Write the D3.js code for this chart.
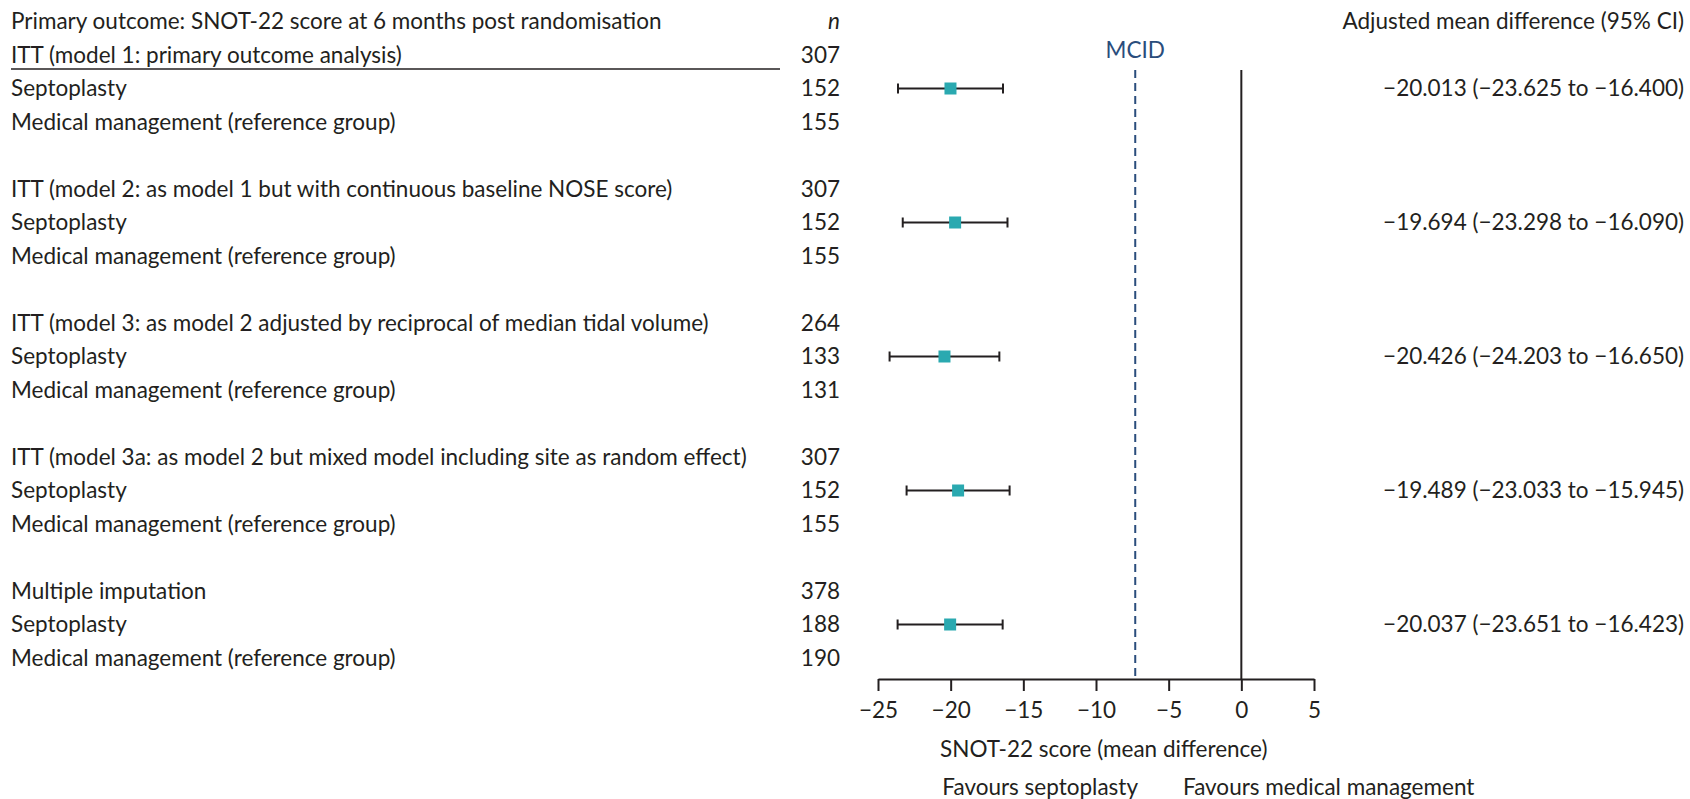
<!DOCTYPE html>
<html>
<head>
<meta charset="utf-8">
<script src="https://cdn.jsdelivr.net/npm/d3@7"></script>
<style>
  body { margin: 0; background: #fff; }
  svg text { font-family: Lato, "Open Sans", sans-serif; fill: #231f20; }
</style>
</head>
<body>
<div id="vis"></div>
<script>
// Forest plot: SNOT-22 at 6 months

var header = "Primary outcome: SNOT-22 score at 6 months post randomisation";
var groupLabels = [
    "ITT (model 1: primary outcome analysis)",
    "ITT (model 2: as model 1 but with continuous baseline NOSE score)",
    "ITT (model 3: as model 2 adjusted by reciprocal of median tidal volume)",
    "ITT (model 3a: as model 2 but mixed model including site as random effect)",
    "Multiple imputation"
];
var groupN = [ 307, 307, 264, 307, 378 ];
var septoN = [ 152, 152, 133, 152, 188 ];
var medN = [ 155, 155, 131, 155, 190 ];
var estimate = [ -20.013, -19.694, -20.426, -19.489, -20.037 ];
var lower = [ -23.625, -23.298, -24.203, -23.033, -23.651 ];
var upper = [ -16.400, -16.090, -16.650, -15.945, -16.423 ];
var xTicks = [ -25, -20, -15, -10, -5, 0, 5 ];
var mcid = -7.3;

var width = 1690, height = 799;

var svg = d3.select( "#vis" ).append( "svg" )
    .attr( "width", width )
    .attr( "height", height );

// row positions (header is row 0, each group takes 4 rows)
var y = d3.scaleLinear().domain( [ 0, 19 ] ).range( [ 21.5, 658 ] );
var x = d3.scaleLinear().domain( [ -25, 5 ] ).range( [ 878, 1314 ] );
var axisY = 679;
var fs = 22.5;

// build the table rows
var rows = [];
groupLabels.forEach( function( g, i ) {
    rows.push( { label: g, n: groupN[ i ], row: 1 + i * 4 } );
    rows.push( { label: "Septoplasty", n: septoN[ i ], row: 2 + i * 4, est: estimate[ i ], lo: lower[ i ], hi: upper[ i ] } );
    rows.push( { label: "Medical management (reference group)", n: medN[ i ], row: 3 + i * 4 } );
});

// header texts
svg.append( "text" )
    .attr( "x", 11 ).attr( "y", y( 0 ) ).attr( "dy", "0.35em" )
    .style( "font-size", fs + "px" )
    .text( header );

svg.append( "text" )
    .attr( "x", 840 ).attr( "y", y( 0 ) ).attr( "dy", "0.35em" )
    .style( "font-size", fs + "px" )
    .style( "font-style", "italic" )
    .style( "text-anchor", "end" )
    .text( "n" );

svg.append( "text" )
    .attr( "x", 1684 ).attr( "y", y( 0 ) ).attr( "dy", "0.35em" )
    .style( "font-size", fs + "px" )
    .style( "text-anchor", "end" )
    .text( "Adjusted mean difference (95% CI)" );

// rule under first heading
svg.append( "line" )
    .attr( "x1", 11 ).attr( "x2", 780 )
    .attr( "y1", 69 ).attr( "y2", 69 )
    .attr( "stroke", "#231f20" ).attr( "stroke-width", 1.5 );

// labels and n
svg.selectAll( ".lab" )
    .data( rows )
    .enter().append( "text" )
    .attr( "class", "lab" )
    .attr( "x", 11 )
    .attr( "y", function( d ) { return y( d.row ); } )
    .attr( "dy", "0.35em" )
    .style( "font-size", fs + "px" )
    .text( function( d ) { return d.label; } );

svg.selectAll( ".nval" )
    .data( rows )
    .enter().append( "text" )
    .attr( "class", "nval" )
    .attr( "x", 840 )
    .attr( "y", function( d ) { return y( d.row ); } )
    .attr( "dy", "0.35em" )
    .style( "font-size", fs + "px" )
    .style( "text-anchor", "end" )
    .text( function( d ) { return d.n; } );

var est = rows.filter( function( d ) { return d.est !== undefined; } );
var f3 = d3.format( ".3f" );

// estimate text
svg.selectAll( ".ci" )
    .data( est )
    .enter().append( "text" )
    .attr( "class", "ci" )
    .attr( "x", 1684 )
    .attr( "y", function( d ) { return y( d.row ); } )
    .attr( "dy", "0.35em" )
    .style( "font-size", fs + "px" )
    .style( "text-anchor", "end" )
    .text( function( d ) { return f3( d.est ) + " (" + f3( d.lo ) + " to " + f3( d.hi ) + ")"; } );

// no-effect line
svg.append( "line" )
    .attr( "x1", x( 0 ) ).attr( "x2", x( 0 ) )
    .attr( "y1", 70 ).attr( "y2", axisY )
    .attr( "stroke", "#231f20" ).attr( "stroke-width", 2 );

// MCID line
svg.append( "line" )
    .attr( "x1", x( mcid ) ).attr( "x2", x( mcid ) )
    .attr( "y1", 70 ).attr( "y2", axisY )
    .attr( "stroke", "#2a4d7c" ).attr( "stroke-width", 2 )
    .attr( "stroke-dasharray", "8,5" );

svg.append( "text" )
    .attr( "x", x( mcid ) ).attr( "y", 50 ).attr( "dy", "0.35em" )
    .style( "font-size", fs + "px" )
    .style( "fill", "#2a4d7c" )
    .style( "text-anchor", "middle" )
    .text( "MCID" );

// error bars
var bars = svg.selectAll( ".bar" )
    .data( est )
    .enter().append( "g" )
    .attr( "class", "bar" )
    .attr( "transform", function( d ) { return "translate(0," + y( d.row ) + ")"; } );

bars.append( "line" )
    .attr( "x1", function( d ) { return x( d.lo ); } )
    .attr( "x2", function( d ) { return x( d.hi ); } )
    .attr( "stroke", "#231f20" ).attr( "stroke-width", 2 );

bars.append( "line" )
    .attr( "x1", function( d ) { return x( d.lo ); } )
    .attr( "x2", function( d ) { return x( d.lo ); } )
    .attr( "y1", -5 ).attr( "y2", 5 )
    .attr( "stroke", "#231f20" ).attr( "stroke-width", 2 );

bars.append( "line" )
    .attr( "x1", function( d ) { return x( d.hi ); } )
    .attr( "x2", function( d ) { return x( d.hi ); } )
    .attr( "y1", -5 ).attr( "y2", 5 )
    .attr( "stroke", "#231f20" ).attr( "stroke-width", 2 );

bars.append( "rect" )
    .attr( "x", function( d ) { return x( d.est ) - 6; } )
    .attr( "y", -6 )
    .attr( "width", 12 ).attr( "height", 12 )
    .attr( "fill", "#2aa9b0" );

// x axis
var axis = svg.append( "g" )
    .attr( "transform", "translate(0," + axisY + ")" )
    .call( d3.axisBottom( x ).tickValues( xTicks ).tickSize( 12 ).tickSizeOuter( 0 ).tickPadding( 11 ) );

axis.select( ".domain" ).attr( "stroke", "#231f20" ).attr( "stroke-width", 2 );
axis.selectAll( ".tick line" ).attr( "stroke", "#231f20" ).attr( "stroke-width", 2 );
axis.selectAll( ".tick text" )
    .style( "font-family", "Lato, sans-serif" )
    .style( "font-size", fs + "px" )
    .attr( "fill", "#231f20" );

// axis titles
svg.append( "text" )
    .attr( "x", 940 ).attr( "y", 749 ).attr( "dy", "0.35em" )
    .style( "font-size", fs + "px" )
    .text( "SNOT-22 score (mean difference)" );

svg.append( "text" )
    .attr( "x", 1138 ).attr( "y", 787 ).attr( "dy", "0.35em" )
    .style( "font-size", fs + "px" )
    .style( "text-anchor", "end" )
    .text( "Favours septoplasty" );

svg.append( "text" )
    .attr( "x", 1183 ).attr( "y", 787 ).attr( "dy", "0.35em" )
    .style( "font-size", fs + "px" )
    .text( "Favours medical management" );
</script>
</body>
</html>
